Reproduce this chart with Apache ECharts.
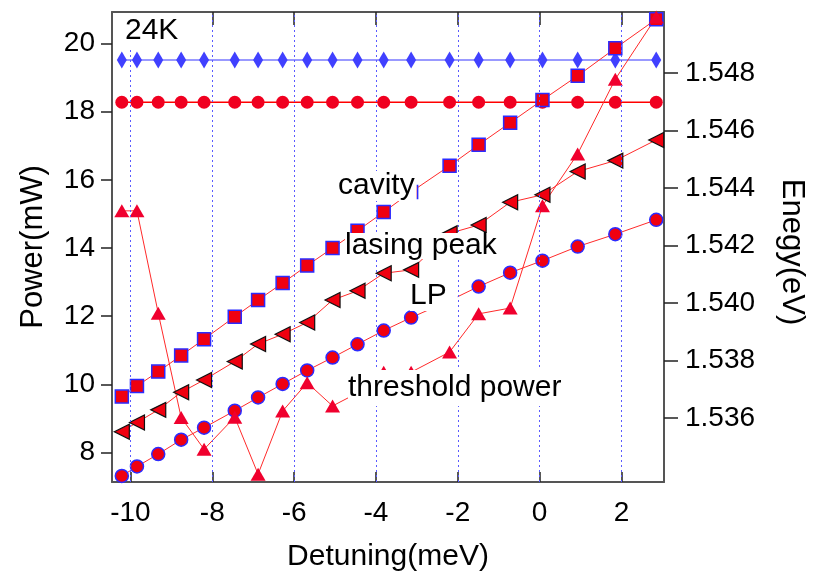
<!DOCTYPE html>
<html>
<head>
<meta charset="utf-8">
<script src="https://cdn.jsdelivr.net/npm/echarts@6/dist/echarts.min.js"></script>
<style>html,body{margin:0;padding:0;background:#fff;}#c{width:816px;height:580px;}</style>
</head>
<body>
<div id="c"></div>
<script>
// Detuning (meV) of each measurement
const detuning = [-10.21, -9.84, -9.32, -8.76, -8.20, -7.45, -6.88, -6.28, -5.68, -5.06, -4.45, -3.81, -3.14, -2.20, -1.49, -0.72, 0.07, 0.93, 1.85, 2.85];
// Energies (eV), right axis
const excitonLine = [1.54846, 1.54846, 1.54846, 1.54846, 1.54846, 1.54846, 1.54846, 1.54846, 1.54846, 1.54846, 1.54846, 1.54846, 1.54846, 1.54846, 1.54846, 1.54846, 1.54846, 1.54846, 1.54846, 1.54846];
const redFlatLine = [1.54699, 1.54699, 1.54699, 1.54699, 1.54699, 1.54699, 1.54699, 1.54699, 1.54699, 1.54699, 1.54699, 1.54699, 1.54699, 1.54699, 1.54699, 1.54699, 1.54699, 1.54699, 1.54699, 1.54699];
const cavity = [1.53675, 1.53712, 1.53762, 1.53818, 1.53875, 1.53953, 1.54011, 1.54070, 1.54131, 1.54192, 1.54252, 1.54317, 1.54387, 1.54478, 1.54551, 1.54628, 1.54707, 1.54791, 1.54887, 1.54988];
const lasingPeak = [1.53553, 1.53585, 1.53629, 1.53690, 1.53733, 1.53797, 1.53858, 1.53892, 1.53933, 1.54011, 1.54043, 1.54104, 1.54116, 1.54243, 1.54272, 1.54351, 1.54377, 1.54458, 1.54496, 1.54568];
const lowerPolariton = [1.53399, 1.53432, 1.53475, 1.53525, 1.53567, 1.53626, 1.53672, 1.53719, 1.53766, 1.53811, 1.53857, 1.53905, 1.53950, 1.54009, 1.54058, 1.54106, 1.54148, 1.54197, 1.54240, 1.54290];
// Threshold power (mW), left axis
const thresholdPower = [15.09, 15.09, 12.09, 9.03, 8.10, 9.04, 7.37, 9.22, 10.05, 9.37, 9.75, 10.36, 10.36, 10.95, 12.07, 12.24, 15.24, 16.76, 18.95, 20.77];
// Tick labels
const xTicks = [-10, -8, -6, -4, -2, 0, 2];
const xTopTicks = [-8, -6, -4, -2, 0, 2];
const powerTicks = [8, 10, 12, 14, 16, 18, 20];
const energyTicks = [1.536, 1.538, 1.540, 1.542, 1.544, 1.546, 1.548];

const FONT = '"Liberation Sans", Arial, sans-serif';
const pts = vals => detuning.map((x, i) => [x, vals[i]]);
const chart = echarts.init(document.getElementById('c'), null, {renderer: 'canvas'});

const redLine = {color: '#ff2a2a', width: 1};
const axisLineStyle = {show: true, onZero: false, lineStyle: {color: '#555', width: 2}};
const option = {
  animation: false,
  backgroundColor: '#fff',
  grid: {left: 112, right: 152, top: 12, bottom: 98, containLabel: false},
  xAxis: [{
    type: 'value', position: 'bottom', min: -10.45, max: 3.04,
    axisLine: axisLineStyle,
    axisTick: {show: true, inside: true, length: 10, customValues: xTicks, lineStyle: {color: '#222', width: 1.5}},
    axisLabel: {show: true, customValues: xTicks, fontSize: 28, color: '#000', fontFamily: FONT, margin: 17},
    splitLine: {show: false},
    name: 'Detuning(meV)', nameLocation: 'middle', nameGap: 60,
    nameTextStyle: {fontSize: 30, color: '#000', fontFamily: FONT}
  }, {
    type: 'value', position: 'top', min: -10.45, max: 3.04,
    axisLine: axisLineStyle,
    axisTick: {show: true, inside: true, length: 13, customValues: xTopTicks, lineStyle: {color: '#222', width: 1.5}},
    axisLabel: {show: false},
    splitLine: {show: false}
  }],
  yAxis: [{
    type: 'value', position: 'left', min: 7.14, max: 20.92,
    axisLine: axisLineStyle,
    axisTick: {show: true, inside: false, length: 11, customValues: powerTicks, lineStyle: {color: '#222', width: 1.5}},
    axisLabel: {show: true, customValues: powerTicks, fontSize: 28, color: '#000', fontFamily: FONT, margin: 17},
    splitLine: {show: false},
    name: 'Power(mW)', nameLocation: 'middle', nameGap: 63, nameRotate: 90,
    nameTextStyle: {fontSize: 31, color: '#000', fontFamily: FONT}
  }, {
    type: 'value', position: 'right', min: 1.53378, max: 1.55013,
    axisLine: axisLineStyle,
    axisTick: {show: true, inside: false, length: 14, customValues: energyTicks, lineStyle: {color: '#222', width: 1.5}},
    axisLabel: {show: true, customValues: energyTicks, fontSize: 28, color: '#000', fontFamily: FONT, margin: 21,
      formatter: v => Number(v).toFixed(3)},
    splitLine: {show: false},
    name: 'Enegy(eV)', nameLocation: 'middle', nameGap: 112, nameRotate: -90,
    nameTextStyle: {fontSize: 31, color: '#000', fontFamily: FONT, padding: [0, 0, 0, 10]}
  }],
  series: [
    {
      type: 'line', data: [], z: 1, silent: true,
      markLine: {
        silent: true, symbol: ['none', 'none'], label: {show: false},
        lineStyle: {color: '#5a5aff', type: [2, 3], width: 1},
        data: xTicks.map(v => ({xAxis: v}))
      }
    },
    {
      name: 'exciton', type: 'line', yAxisIndex: 1, data: pts(excitonLine),
      symbol: 'diamond', symbolSize: [10, 17],
      itemStyle: {color: '#4040ff', borderWidth: 0},
      lineStyle: {color: '#7878ff', width: 1.5}
    },
    {
      name: 'flat', type: 'line', yAxisIndex: 1, data: pts(redFlatLine),
      symbol: 'circle', symbolSize: 13,
      itemStyle: {color: '#f00020', borderWidth: 0},
      lineStyle: {color: '#ff0000', width: 1.5}
    },
    {
      name: 'cavity', type: 'line', yAxisIndex: 1, data: pts(cavity),
      symbol: 'rect', symbolSize: 13,
      itemStyle: {color: '#f00010', borderColor: '#2b2bff', borderWidth: 1.5},
      lineStyle: redLine
    },
    {
      name: 'lasing peak', type: 'line', yAxisIndex: 1, data: pts(lasingPeak),
      symbol: 'path://M0,5 L10,0 L10,10 Z', symbolSize: [15, 15],
      itemStyle: {color: '#f00010', borderColor: '#111', borderWidth: 1.2},
      lineStyle: redLine
    },
    {
      name: 'LP', type: 'line', yAxisIndex: 1, data: pts(lowerPolariton),
      symbol: 'circle', symbolSize: 13,
      itemStyle: {color: '#f00010', borderColor: '#2b2bff', borderWidth: 1.5},
      lineStyle: redLine
    },
    {
      name: 'threshold power', type: 'line', yAxisIndex: 0, data: pts(thresholdPower),
      symbol: 'triangle', symbolSize: [15, 13],
      itemStyle: {color: '#f0002e', borderWidth: 0},
      lineStyle: redLine
    }
  ],
  graphic: [
    {type: 'text', z: 100, x: 125, y: 31, style: {text: '24K', font: '30px ' + FONT, fill: '#000', align: 'left', verticalAlign: 'middle', backgroundColor: '#fff', lineHeight: 32}},
    {type: 'text', z: 100, x: 338, y: 186, style: {text: 'cavity', font: '30px ' + FONT, fill: '#000', align: 'left', verticalAlign: 'middle', backgroundColor: '#fff', lineHeight: 30, padding: [0, 2, 0, 0]}},
    {type: 'text', z: 100, x: 345, y: 246, style: {text: 'lasing peak', font: '30px ' + FONT, fill: '#000', align: 'left', verticalAlign: 'middle', backgroundColor: '#fff', lineHeight: 26}},
    {type: 'text', z: 100, x: 410, y: 296, style: {text: 'LP', font: '30px ' + FONT, fill: '#000', align: 'left', verticalAlign: 'middle', backgroundColor: '#fff', lineHeight: 30, padding: [0, 11, 0, 0]}},
    {type: 'text', z: 100, x: 348, y: 388, style: {text: 'threshold power', font: '30px ' + FONT, fill: '#000', align: 'left', verticalAlign: 'middle', backgroundColor: '#fff', lineHeight: 36}}
  ]
};
chart.setOption(option);
</script>
</body>
</html>
